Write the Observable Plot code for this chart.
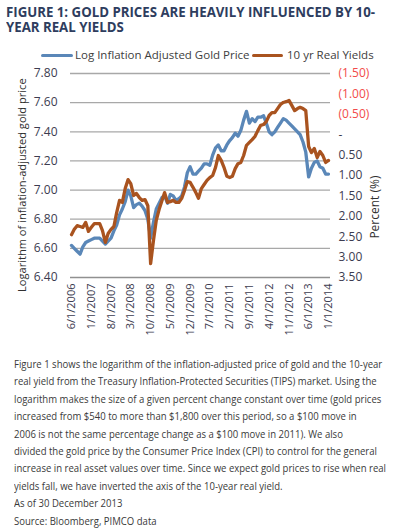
<!DOCTYPE html>
<html>
<head>
<meta charset="utf-8">
<script src="https://cdn.jsdelivr.net/npm/d3@7"></script>
<script src="https://cdn.jsdelivr.net/npm/@observablehq/plot@0.6"></script>
<style>
  body { margin: 0; background: #fff; }
  #root { position: relative; width: 398px; height: 532px; overflow: hidden; background: #fff; }
  .title { position: absolute; left: 6px; font-family: "Open Sans", sans-serif; font-weight: bold; font-size: 14px; line-height: 14px; height: 14px; color: #2e3d5e; white-space: nowrap; display: inline-block; transform-origin: 0 0; }
  .leg { position: absolute; top: 47px; font-family: "Open Sans", sans-serif; font-size: 11.5px; color: #404040; white-space: nowrap; line-height: 16px; }
  .sw { position: absolute; top: 54px; height: 3px; border-radius: 1.5px; }
  #chart { position: absolute; left: 0; top: 60px; }
  #ytitle { position: absolute; left: 22px; top: 185px; font-family: "Open Sans", sans-serif; font-size: 11.5px; line-height: 14px; color: #303030; white-space: nowrap; transform-origin: 0 0; }
  #caption { position: absolute; left: 14px; top: 355px; font-family: "Open Sans", sans-serif; font-size: 11.5px; line-height: 17.4px; color: #3a3a3a; white-space: nowrap; display: inline-block; transform-origin: 0 0; }
</style>
</head>
<body>
<div id="root">
  <div class="title" id="title0" style="top:5px"></div>
  <div class="title" id="title1" style="top:20px"></div>
  <div class="sw" style="left:41px;width:32px;background:#5a87b8"></div>
  <div class="leg" id="leg0" style="left:75px"></div>
  <div class="sw" style="left:252px;width:31px;background:#a9531f"></div>
  <div class="leg" id="leg1" style="left:287px"></div>
  <div id="chart"></div>
  <div id="ytitle"></div>
  <div id="caption"></div>
</div>
<script>
// Monthly observations, June 2006 .. January 2014
const startMonth = "2006-06-01";
const goldLog = [
  6.62, 6.60, 6.58, 6.56, 6.61, 6.64, 6.65, 6.66, 6.67, 6.67, 6.67, 6.65,
  6.63, 6.65, 6.67, 6.72, 6.76, 6.83, 6.87, 6.92, 7.00, 6.96, 6.88, 6.90,
  6.91, 6.89, 6.86, 6.80, 6.67, 6.78, 6.87, 6.91, 6.95, 6.96, 6.91, 6.97,
  6.96, 6.93, 6.94, 6.96, 7.02, 7.12, 7.16, 7.11, 7.11, 7.13, 7.15, 7.18,
  7.18, 7.17, 7.24, 7.29, 7.31, 7.27, 7.27, 7.31, 7.34, 7.36, 7.39, 7.37,
  7.41, 7.48, 7.54, 7.46, 7.49, 7.47, 7.50, 7.50, 7.51, 7.46, 7.40, 7.38,
  7.40, 7.43, 7.46, 7.49, 7.48, 7.46, 7.44, 7.42, 7.40, 7.38, 7.33, 7.26,
  7.09, 7.15, 7.19, 7.20, 7.16, 7.15, 7.11, 7.11
];
const realYield = [
  2.45, 2.32, 2.23, 2.25, 2.27, 2.15, 2.37, 2.27, 2.18, 2.18, 2.18, 2.35,
  2.64, 2.42, 2.32, 2.25, 1.91, 1.61, 1.66, 1.32, 1.10, 1.20, 1.49, 1.44,
  1.54, 1.61, 1.59, 1.74, 3.16, 2.59, 2.10, 1.83, 1.61, 1.42, 1.66, 1.64,
  1.61, 1.66, 1.66, 1.56, 1.37, 1.15, 1.17, 1.29, 1.42, 1.56, 1.32, 1.22,
  1.12, 1.05, 1.00, 0.80, 0.51, 0.63, 0.80, 1.02, 1.05, 1.02, 0.83, 0.71,
  0.68, 0.51, 0.26, 0.19, 0.12, 0.04, -0.10, -0.23, -0.25, -0.32, -0.47, -0.54,
  -0.54, -0.64, -0.74, -0.79, -0.81, -0.84, -0.72, -0.59, -0.64, -0.67, -0.64, -0.59,
  0.29, 0.44, 0.34, 0.56, 0.41, 0.51, 0.68, 0.63
];
const xTickLabels = ["6/1/2006","1/1/2007","8/1/2007","3/1/2008","10/1/2008","5/1/2009","12/1/2009","7/1/2010","2/1/2011","9/1/2011","4/1/2012","11/1/2012","6/1/2013","1/1/2014"];
const goldTicks = [6.4, 6.6, 6.8, 7.0, 7.2, 7.4, 7.6, 7.8];
const yieldTicks = [-1.5, -1.0, -0.5, 0, 0.5, 1.0, 1.5, 2.0, 2.5, 3.0, 3.5];
const titleLines = ["FIGURE 1: GOLD PRICES ARE HEAVILY INFLUENCED BY 10-", "YEAR REAL YIELDS"];
const legendLabels = ["Log Inflation Adjusted Gold Price", "10 yr Real Yields"];
const leftAxisTitle = "Logarithm of inflation-adjusted gold price";
const rightAxisTitle = "Percent (%)";
const captionLines = [
  "Figure 1 shows the logarithm of the inflation-adjusted price of gold and the 10-year",
  "real yield from the Treasury Inflation-Protected Securities (TIPS) market. Using the",
  "logarithm makes the size of a given percent change constant over time (gold prices",
  "increased from $540 to more than $1,800 over this period, so a $100 move in",
  "2006 is not the same percentage change as a $100 move in 2011). We also",
  "divided the gold price by the Consumer Price Index (CPI) to control for the general",
  "increase in real asset values over time. Since we expect gold prices to rise when real",
  "yields fall, we have inverted the axis of the 10-year real yield.",
  "As of 30 December 2013",
  "Source: Bloomberg, PIMCO data"
];

const BLUE = "#5a87b8", BROWN = "#a9531f";

// Right (inverted) yield axis mapped onto the left log-gold scale: -1.5 -> 7.8, 3.5 -> 6.4
const yToLeft = v => 7.8 - (v + 1.5) / 5 * 1.4;
const leftToY = g => Math.round(((7.8 - g) / 1.4 * 5 - 1.5) * 2) / 2;
const fmtYield = v => v < 0 ? `(${(-v).toFixed(2)})` : v === 0 ? "-" : v.toFixed(2);

const parseMDY = s => { const [m, d, y] = s.split("/").map(Number); return new Date(Date.UTC(y, m - 1, d)); };
const t0 = new Date(startMonth + "T00:00:00Z");
const rows = goldLog.map((g, i) => ({
  date: d3.utcMonth.offset(t0, i),
  gold: g,
  yld: realYield[i]
}));
const xTicks = xTickLabels.map(parseMDY);
const labelByTime = new Map(xTickLabels.map(s => [+parseMDY(s), s]));

const FONT = "'Open Sans', sans-serif";

const chart = Plot.plot({
  width: 398,
  height: 290,
  marginTop: 13,
  marginBottom: 73,
  marginLeft: 71,
  marginRight: 70,
  style: { fontFamily: FONT, fontSize: "12px", color: "#404040", background: "transparent", overflow: "visible" },
  x: { type: "utc", domain: [xTicks[0], xTicks[xTicks.length - 1]] },
  y: { domain: [6.4, 7.8] },
  marks: [
    Plot.ruleY(goldTicks.filter(v => v > 6.4), { stroke: "#a8a8a8", strokeWidth: 1.3, insetLeft: -1, insetRight: -2 }),
    Plot.ruleY([6.4], { stroke: "#909090", strokeWidth: 1.5, insetLeft: -1, insetRight: -2 }),
    Plot.axisY({ ticks: goldTicks, tickSize: 0, tickPadding: 14, tickFormat: d => d.toFixed(2), label: null, fontSize: 12, fill: "#3c3c50" }),
    Plot.axisY({ anchor: "right", ticks: yieldTicks.filter(v => v < 0).map(yToLeft), tickFormat: g => fmtYield(leftToY(g)),
      tickSize: 0, tickPadding: 10, textAnchor: "start", label: null, fontSize: 12, fill: "#f24b4b" }),
    Plot.axisY({ anchor: "right", ticks: yieldTicks.filter(v => v >= 0).map(yToLeft), tickFormat: g => fmtYield(leftToY(g)),
      tickSize: 0, tickPadding: 10, textAnchor: "start", label: null, fontSize: 12, fill: "#3c3c50" }),
    Plot.axisX({ ticks: xTicks, tickFormat: d => labelByTime.get(+d), tickRotate: -90, tickSize: 0, tickPadding: 6, label: null, fontSize: 11, fill: "#3c3c50" }),
    Plot.line(rows, { x: "date", y: "gold", stroke: BLUE, strokeWidth: 3.3, strokeLinejoin: "round" }),
    Plot.line(rows, { x: "date", y: d => yToLeft(d.yld), stroke: BROWN, strokeWidth: 3.3, strokeLinejoin: "round" }),
    Plot.text([rightAxisTitle], { frameAnchor: "right", dx: 47, rotate: -90, fontSize: 12, fill: "#303030" })
  ]
});
document.getElementById("chart").appendChild(chart);

// Left axis title: rotated, condensed to the length it has in the reference (about 214px), centred at (22, 185)
const yt = document.getElementById("ytitle");
yt.textContent = leftAxisTitle;
const ytW = yt.offsetWidth, ytH = yt.offsetHeight;
const ytK = Math.min(1, 214 / ytW);
yt.style.transform = `rotate(-90deg) translate(${-ytW * ytK / 2}px, ${-ytH / 2}px) scaleX(${ytK})`;

const titleEls = [document.getElementById("title0"), document.getElementById("title1")];
titleEls.forEach((el, i) => { el.textContent = titleLines[i]; });
document.getElementById("leg0").textContent = legendLabels[0];
document.getElementById("leg1").textContent = legendLabels[1];
const esc = s => s.replace(/&/g, "&amp;").replace(/</g, "&lt;");
const capEl = document.getElementById("caption");
capEl.innerHTML = captionLines.map(esc).join("<br>");

// Condensed typeface look: squeeze horizontally to the reference widths
const titleScale = 369 / titleEls[0].getBoundingClientRect().width;
titleEls.forEach(el => { el.style.transform = `scaleX(${titleScale})`; });
const capW = capEl.getBoundingClientRect().width;
if (capW > 0) capEl.style.transform = `scaleX(${372 / capW})`;
</script>
</body>
</html>
